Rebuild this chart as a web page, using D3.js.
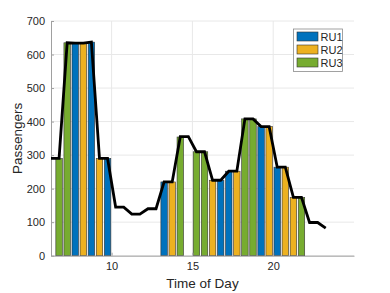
<!DOCTYPE html>
<html>
<head>
<meta charset="utf-8">
<script src="https://cdn.jsdelivr.net/npm/d3@7"></script>
<style>
  body { margin: 0; background: #fff; }
  text { font-family: "Liberation Sans", Arial, sans-serif; }
</style>
</head>
<body>
<div id="chart"></div>
<script>
// bar data, one bar per half hour slot
var barTimes = [6.75, 7.25, 7.75, 8.25, 8.75, 9.25, 9.75,
  13.25, 13.75, 14.25, 15.25, 15.75, 16.25, 16.75, 17.25, 17.75,
  18.25, 18.75, 19.25, 19.75, 20.25, 20.75, 21.25, 21.75];
var barValues = [290, 635, 634, 634, 637, 290, 290,
  220, 220, 354, 310, 310, 225, 225, 252, 252,
  408, 408, 385, 385, 264, 264, 174, 174];
var barUnits = ["RU3", "RU3", "RU1", "RU2", "RU1", "RU2", "RU1",
  "RU1", "RU2", "RU3", "RU3", "RU3", "RU2", "RU1", "RU1", "RU2",
  "RU3", "RU3", "RU1", "RU2", "RU1", "RU2", "RU2", "RU3"];

// demand line
var lineTimes = [6.25, 6.75, 7.25, 7.75, 8.25, 8.75, 9.25, 9.75, 10.25, 10.75,
  11.25, 11.75, 12.25, 12.75, 13.25, 13.75, 14.25, 14.75, 15.25, 15.75,
  16.25, 16.75, 17.25, 17.75, 18.25, 18.75, 19.25, 19.75, 20.25, 20.75,
  21.25, 21.75, 22.25, 22.75, 23.25];
var lineValues = [290, 290, 635, 634, 634, 637, 290, 290, 145, 145,
  124, 124, 140, 140, 220, 220, 355, 355, 310, 310,
  225, 225, 252, 252, 408, 408, 385, 385, 264, 264,
  174, 174, 99, 99, 82];

var units = ["RU1", "RU2", "RU3"];
var unitColors = ["#0072BD", "#EDB120", "#77AC30"];
var xTicks = [10, 15, 20];
var yTicks = [0, 100, 200, 300, 400, 500, 600, 700];

var svgWidth = 390;
var svgHeight = 293;
var margin = { top: 21, right: 36, bottom: 37.3, left: 51 };
var chartWidth = svgWidth - margin.left - margin.right;
var chartHeight = svgHeight - margin.top - margin.bottom;

var svg = d3.select("#chart")
  .append("svg")
  .attr("width", svgWidth)
  .attr("height", svgHeight);

var chartGroup = svg.append("g")
  .attr("transform", `translate(${margin.left}, ${margin.top})`);

var xScale = d3.scaleLinear()
  .domain([6.25, 25])
  .range([0, chartWidth]);

var yScale = d3.scaleLinear()
  .domain([0, 700])
  .range([chartHeight, 0]);

var colorScale = d3.scaleOrdinal()
  .domain(units)
  .range(unitColors);

// grid
chartGroup.append("g")
  .selectAll("line")
  .data(yTicks)
  .enter()
  .append("line")
  .attr("x1", 0)
  .attr("x2", chartWidth)
  .attr("y1", d => yScale(d))
  .attr("y2", d => yScale(d))
  .attr("stroke", "#e8e8e8")
  .attr("stroke-width", 1);

chartGroup.append("g")
  .selectAll("line")
  .data(xTicks)
  .enter()
  .append("line")
  .attr("x1", d => xScale(d))
  .attr("x2", d => xScale(d))
  .attr("y1", 0)
  .attr("y2", chartHeight)
  .attr("stroke", "#e8e8e8")
  .attr("stroke-width", 1);

// bars
var barWidth = xScale(0.4) - xScale(0);
chartGroup.selectAll(".bar")
  .data(barTimes)
  .enter()
  .append("rect")
  .attr("class", "bar")
  .attr("x", (d, i) => xScale(d) - barWidth / 2)
  .attr("y", (d, i) => yScale(barValues[i]))
  .attr("width", barWidth)
  .attr("height", (d, i) => chartHeight - yScale(barValues[i]))
  .attr("fill", (d, i) => colorScale(barUnits[i]))
  .attr("stroke", "#333")
  .attr("stroke-width", 0.6);

// axes
var bottomAxis = d3.axisBottom(xScale).tickValues(xTicks).tickSizeInner(-3).tickSizeOuter(0).tickPadding(7);
var leftAxis = d3.axisLeft(yScale).tickValues(yTicks).tickSizeInner(-3).tickSizeOuter(0).tickPadding(6);

var xAxisG = chartGroup.append("g")
  .attr("transform", `translate(0, ${chartHeight})`)
  .call(bottomAxis);

var yAxisG = chartGroup.append("g")
  .call(leftAxis);

[xAxisG, yAxisG].forEach(function(g) {
  g.select(".domain").attr("stroke", "#a0a0a0").attr("stroke-width", 1);
  g.selectAll(".tick line").attr("stroke", "#a0a0a0");
  g.selectAll("text").attr("fill", "#262626").style("font-size", "11px");
});

// demand line on top
var line = d3.line()
  .x((d, i) => xScale(d))
  .y((d, i) => yScale(lineValues[i]));

chartGroup.append("path")
  .datum(lineTimes)
  .attr("d", line)
  .attr("fill", "none")
  .attr("stroke", "#000")
  .attr("stroke-width", 2.8)
  .attr("stroke-linejoin", "miter");

// labels
chartGroup.append("text")
  .attr("x", chartWidth / 2)
  .attr("y", chartHeight + 32)
  .attr("text-anchor", "middle")
  .attr("fill", "#262626")
  .style("font-size", "13.5px")
  .text("Time of Day");

chartGroup.append("text")
  .attr("transform", "rotate(-90)")
  .attr("x", -chartHeight / 2)
  .attr("y", -29)
  .attr("text-anchor", "middle")
  .attr("fill", "#262626")
  .style("font-size", "13.5px")
  .text("Passengers");

// legend
var legend = svg.append("g")
  .attr("transform", "translate(293.5, 29)");

legend.append("rect")
  .attr("width", 49)
  .attr("height", 42.5)
  .attr("fill", "#fff")
  .attr("stroke", "#8a8a8a")
  .attr("stroke-width", 0.8);

var legendItems = legend.selectAll(".item")
  .data(units)
  .enter()
  .append("g")
  .attr("class", "item")
  .attr("transform", (d, i) => `translate(3.5, ${3 + i * 13})`);

legendItems.append("rect")
  .attr("width", 21)
  .attr("height", 9)
  .attr("fill", d => colorScale(d))
  .attr("stroke", "#333")
  .attr("stroke-width", 0.6);

legendItems.append("text")
  .attr("x", 23.5)
  .attr("y", 8.5)
  .attr("fill", "#262626")
  .style("font-size", "11px")
  .text(d => d);
</script>
</body>
</html>
